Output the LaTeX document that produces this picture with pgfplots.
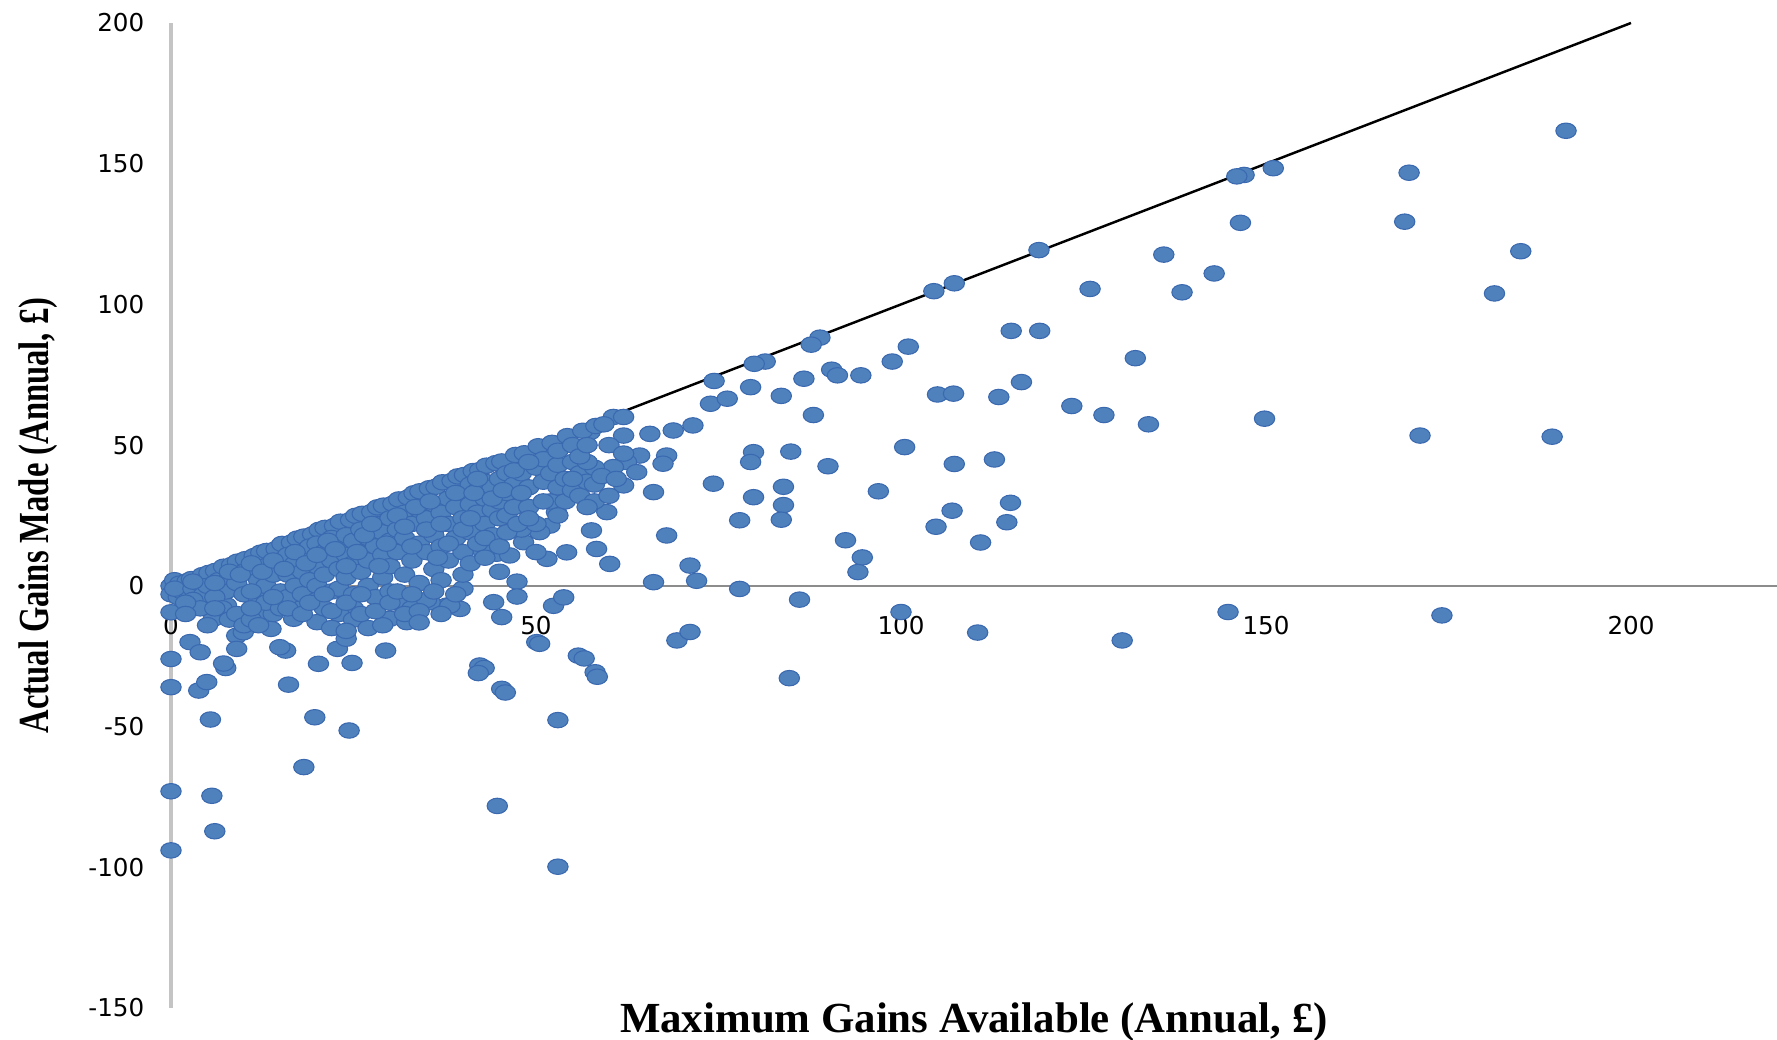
\documentclass[border=0pt]{standalone}
\usepackage{graphicx}
\usepackage{pgfplots}
\pgfplotsset{compat=1.18}
\usepackage{fontspec}
\setmainfont{Liberation Serif}
\newfontfamily\ticksfont{DejaVu Sans}
\definecolor{dotblue}{HTML}{4F81BD}
\definecolor{dotedge}{HTML}{3A69B0}
\definecolor{xaxisgray}{HTML}{8C8C8C}
\definecolor{yaxisgray}{HTML}{C4C4C4}

\begin{document}
\begin{tikzpicture}
\useasboundingbox (-1.71,-0.32) rectangle (16.06,10.08);
\begin{axis}[
    scale only axis,
    width=16.06cm, height=9.85cm,
    xmin=0, xmax=220, ymin=-150, ymax=200,
    axis x line=middle, axis y line=left,
    x axis line style={-, draw=xaxisgray, line width=0.5pt},
    y axis line style={-, draw=yaxisgray, line width=1.1pt},
    xtick={0,50,...,200}, ytick={-150,-100,...,200},
    major tick length=0pt,
    hide obscured x ticks=false, hide obscured y ticks=false,
    /pgf/number format/assume math mode=true,
    tick label style={font=\ticksfont\fontsize{7}{8}\selectfont, text=black},
    xticklabel style={anchor=center, yshift=-0.40cm},
    yticklabel style={anchor=east, inner sep=0pt, xshift=-0.26cm},
    every axis x label/.style={at={(axis description cs:0.5,-0.0244)}, anchor=base},
    every axis y label/.style={at={(axis description cs:-0.0828,0.5)}, anchor=center, rotate=90},
    label style={font=\bfseries\fontsize{12.2}{14}\selectfont},
    xlabel={Maximum Gains Available (Annual, £)},
    ylabel={\scalebox{0.76}[1]{Actual Gains Made (Annual, £)}},
    clip=false,
    scaled ticks=false,
  ]
  % households
  \addplot[only marks, mark=*, mark size=2.2pt,
    mark options={xscale=1.32, fill=dotblue, draw=dotedge, line width=0.3pt}]
    table {
x y
191.1 161.7
169.6 146.8
169.0 129.4
184.9 118.9
181.3 103.9
171.1 53.4
189.2 53.0
174.1 -10.5
151.0 148.4
147.0 146.0
146.0 145.5
146.5 129.0
136.0 117.7
142.9 111.0
138.5 104.3
125.9 105.5
118.9 119.3
115.1 90.6
119.0 90.6
132.1 80.9
116.5 72.4
113.4 67.1
123.4 63.9
127.8 60.7
133.9 57.4
149.8 59.4
112.8 44.9
107.3 43.3
115.0 29.5
114.5 22.6
107.0 26.7
104.8 21.0
110.9 15.4
110.5 -16.6
130.3 -19.4
144.8 -9.3
104.5 104.7
107.3 107.5
105.0 68.0
107.2 68.3
101.0 85.0
98.8 79.7
100.5 49.3
96.9 33.6
94.5 74.8
90.5 76.8
91.3 74.8
90.0 42.5
92.4 16.2
94.7 10.1
94.1 4.9
100.0 -9.3
88.9 88.2
87.7 85.7
86.7 73.6
88.0 60.7
83.6 67.5
81.4 79.7
79.9 78.9
84.9 47.7
83.9 35.2
83.9 28.7
83.6 23.5
86.1 -4.9
84.7 -32.8
74.4 72.8
52.4 49.3
57.4 54.6
60.6 60.0
62.0 53.4
65.6 54.0
68.8 55.2
71.5 57.0
73.9 64.7
76.2 66.5
79.4 70.6
79.8 47.5
79.4 44.0
64.2 46.3
62.4 44.0
60.6 42.2
67.9 46.3
67.4 43.4
63.8 40.4
62.0 35.7
66.1 33.3
74.3 36.3
79.8 31.5
77.9 23.3
67.9 17.9
59.7 26.2
57.6 19.7
58.3 13.1
60.1 7.8
71.1 7.2
72.0 1.8
66.1 1.3
77.9 -1.1
54.2 11.9
51.5 9.6
48.3 15.5
44.6 11.4
46.4 10.8
42.8 12.0
52.8 26.2
51.9 21.4
50.5 19.1
40.0 -1.0
37.8 -7.0
39.6 -8.2
44.2 -5.8
47.4 1.5
47.4 -3.8
52.4 -7.1
53.8 -4.1
45.3 -11.1
50.1 -20.0
55.8 -24.8
58.1 -30.7
42.3 -28.3
45.3 -36.6
69.3 -19.4
71.1 -16.4
0 -73
0 -94
5.6 -74.6
6.0 -87.2
5.4 -47.5
0 -36
0 -26
3.8 -37.2
4.9 -34.2
7.5 -29.2
16.1 -35.1
19.7 -46.7
24.4 -51.4
18.2 -64.4
44.7 -78.2
53.0 -99.8
53.0 -47.7
45.8 -37.9
42.9 -29.2
42.1 -31.0
50.5 -20.6
56.6 -25.8
58.4 -32.3
20.2 -27.7
24.8 -27.4
22.8 -22.4
29.4 -23.0
15.7 -23.0
0 -9.4
2.6 -20
4 -23.6
7.2 -27.6
14.9 -21.8
24 -18.8
20 -12.9
25 -8
30 -11.7
32.3 -12.9
35.5 -5.8
38.2 -7
9 -17.7
5.8 -11.7
7.6 -6.9
12.2 -9.3
16.8 -11.7
17.7 -8.1
13.7 -15.3
9.9 -16.5
9 -22.4
0 0
0 -3
1 -4
0.5 2
1.2 0.8
1.5 -2
2.2 1.6
0.5 -1
2.8 2.4
3 -1
3.6 1.2
4.3 3.8
4.5 -3
5.2 4.6
5 0
3 -5
4 -8
2 -6
6.1 5.3
6.5 2
7.2 6.8
7.5 -2
8.3 7.4
8 3
9.1 8.6
9 1
10.2 9.5
10 5
10 -3
6 -4
7 -8
8 -12
9 -10
10 -14
11 -12
11.4 10.6
11 6
12.3 11.8
12 2
12 -5
13.1 12.4
13 7
13 0
14.4 13.1
14 4
14 -10
15.2 14.9
15 9
15 -2
11 -2
13 -6
15 -8
16.5 15.4
16 11
16 4
16 -4
17.3 16.8
17 8
17 0
18.2 17.5
18 12
18 5
18 -3
19.4 18.3
19 14
19 9
19 2
20.3 19.9
20 15
20 7
20 0
20 -5
21.1 20.6
21 12
21 4
22.4 21.3
22 17
22 9
22 -2
23.2 22.8
23 14
23 6
23 -1
24.6 23.4
24 18
24 11
24 3
25.3 24.9
25 16
25 8
25 -3
21 -8
23 -10
25 -12
22 -15
24 -16
26.2 25.6
26 20
26 12
26 5
27.5 26.3
27 17
27 9
27 0
28.3 27.9
28 22
28 14
28 -4
29.1 28.5
29 19
29 11
29 3
30.4 29.2
30 24
30 16
30 7
30 -2
27 -15
29 -14
31.2 30.7
31 20
31 12
31 -6
32.5 31.4
32 26
32 17
32 4
33.3 32.9
33 22
33 9
33 -8
34.1 33.6
34 27
34 15
34 1
35.4 34.7
35 24
35 12
35 -5
32 -10
34 -9
36.3 35.2
36 29
36 18
36 6
37.2 36.8
37 26
37 14
37 2
38.5 37.3
38 31
38 22
38 9
39.3 38.9
39 28
39 17
39 -3
40.2 39.4
40 33
40 24
40 12
40 4
41.4 40.8
41 36
41 29
41 19
41 8
42.3 41.1
42 34
42 26
42 15
43.2 42.7
43 37
43 31
43 22
43 10
44.5 43.6
44 35
44 27
44 18
45.3 44.2
45 38
45 30
45 24
45 5
46 40
46 33
46 25
47.2 46.5
47 36
47 28
48.4 47.1
48 40
48 20
49 35
49 28
50.3 49.6
50 42
50 22
50 12
51 45
51 37
52.2 50.8
52 40
52 30
53 43
53 35
54.3 53.2
54 38
54 30
55 44
55 34
56.4 55.1
56 40
56 32
57 37
58.2 56.8
58 42
58 30
59.3 57.4
62 60
3 1.5
6 1
8 5
9.5 4
11 8
12.5 5
14 9
15.5 6
17 12
18.5 8
20 11
21.5 16
22.5 13
24 7
25.5 12
26.5 18
27.5 22
28.5 7
29.5 15
31 25
32 21
33 14
33.5 28
35 20
35.5 30
36.5 10
37 22
38 15
39 33
40 20
41 24
41.5 33
42 38
43 17
44 31
45 14
45.5 34
46 19
47 41
47.5 22
48 33
49 44
49 24
51 30
53 48
53 25
55 50
55 38
57 44
57 28
58 36
56 46
59 39
60 32
61 38
60 50
57 50
62 47
2 -10
5 -14
6 -8
11 -8
12 -14
14 -4
16 -8
18 -10
19 -6
21 -3
22 -9
24 -6
26 -3
26 -10
28 -9
30 -6
31 -2
33 -3
34 -13
36 -2
37 -10
    };
  % line of equality
  \addplot[black, line width=0.7pt] coordinates {(0,0) (200,200)};
\end{axis}
\end{tikzpicture}
\end{document}
